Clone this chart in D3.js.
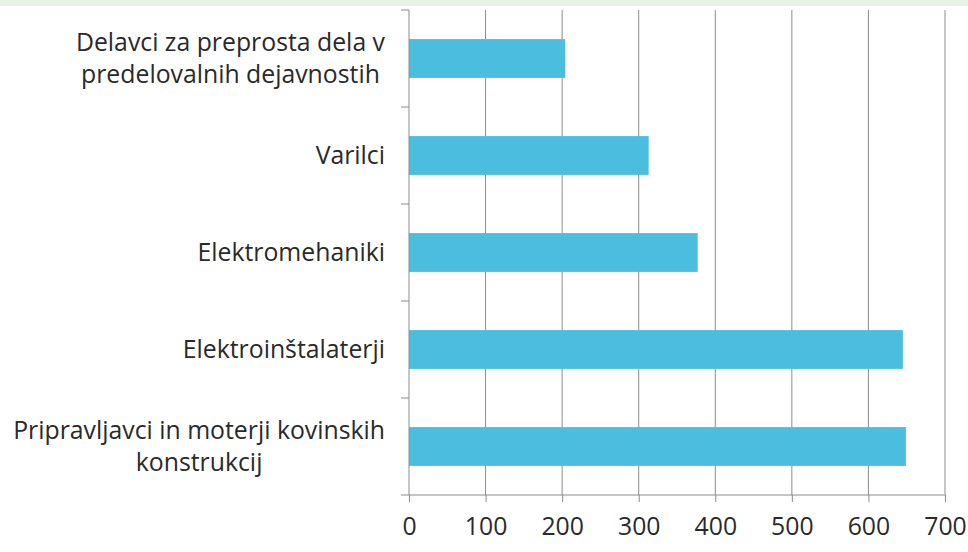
<!DOCTYPE html>
<html>
<head>
<meta charset="utf-8">
<script src="https://cdn.jsdelivr.net/npm/d3@7"></script>
<style>
  body { margin: 0; background: #fff; }
  svg { display: block; }
</style>
</head>
<body>
<main></main>
<script>
// chart data, top to bottom
const categories = [
  ["Delavci za preprosta dela v", "predelovalnih dejavnostih"],
  ["Varilci"],
  ["Elektromehaniki"],
  ["Elektroinštalaterji"],
  ["Pripravljavci in moterji kovinskih", "konstrukcij"]
];
const values = [204, 313, 377, 645, 649];
const xTicks = [0, 100, 200, 300, 400, 500, 600, 700];

const W = 968, H = 552;
const margin = { top: 10, right: 23, bottom: 57, left: 409 };
const fontSize = 24.8;

const svg = d3.select("main").append("svg")
              .attr("width", W)
              .attr("height", H);

// light green strip at the top
svg.append("rect").attr("x", 0).attr("y", 0)
   .attr("width", W).attr("height", 6)
   .attr("fill", "#e8f3e8");

const g = svg.append("g").attr("transform", `translate(${margin.left},${margin.top})`);
const iw = W - margin.left - margin.right;
const ih = H - margin.top - margin.bottom;

const x = d3.scaleLinear().domain([0, 700]).range([0, iw]);
const y = d3.scaleBand().domain(d3.range(categories.length))
            .range([0, ih]).paddingInner(0.6).paddingOuter(0.3);

// vertical gridlines
g.append("g").selectAll("line")
 .data(xTicks.slice(1))
 .enter().append("line")
 .attr("x1", d => x(d)).attr("x2", d => x(d))
 .attr("y1", 0).attr("y2", ih)
 .attr("stroke", "#8c8c8c").attr("stroke-width", 1);

// bars
g.append("g").selectAll("rect")
 .data(values)
 .enter().append("rect")
 .attr("x", x(0))
 .attr("y", (d, i) => y(i))
 .attr("width", d => x(d) - x(0))
 .attr("height", y.bandwidth())
 .attr("fill", "#4bbddf");

// left axis, ticks at band boundaries
g.append("line").attr("x1", 0).attr("x2", 0).attr("y1", 0).attr("y2", ih)
 .attr("stroke", "#8c8c8c");
g.append("g").selectAll("line")
 .data(d3.range(categories.length + 1))
 .enter().append("line")
 .attr("x1", -8).attr("x2", 0)
 .attr("y1", d => d * ih / categories.length)
 .attr("y2", d => d * ih / categories.length)
 .attr("stroke", "#8c8c8c");

// bottom axis
const xAxis = d3.axisBottom(x).tickValues(xTicks).tickSize(7).tickPadding(15);
const ax = g.append("g").attr("transform", `translate(0,${ih})`).call(xAxis);
ax.select(".domain").attr("stroke", "#8c8c8c").attr("d", `M0,0H${iw}`);
ax.selectAll(".tick line").attr("stroke", "#8c8c8c");
ax.selectAll("text")
  .attr("font-family", "Open Sans, sans-serif")
  .attr("font-size", fontSize)
  .attr("fill", "#2a2a2a");

// category labels, wrapped lines centred on each other, block right-aligned
const labels = g.append("g").selectAll("text")
  .data(categories)
  .enter().append("text")
  .attr("y", (d, i) => y(i) + y.bandwidth() / 2)
  .attr("text-anchor", "middle")
  .attr("font-family", "Open Sans, sans-serif")
  .attr("font-size", fontSize)
  .attr("fill", "#2a2a2a");

labels.each(function(d) {
  const t = d3.select(this);
  const lh = 32;
  const y0 = -(d.length - 1) * lh / 2;
  const spans = d.map((line, k) => t.append("tspan")
     .attr("dy", k === 0 ? y0 + 8 : lh)
     .text(line));
  const maxW = d3.max(spans, s => s.node().getComputedTextLength());
  spans.forEach(s => s.attr("x", -24 - maxW / 2));
});
</script>
</body>
</html>
